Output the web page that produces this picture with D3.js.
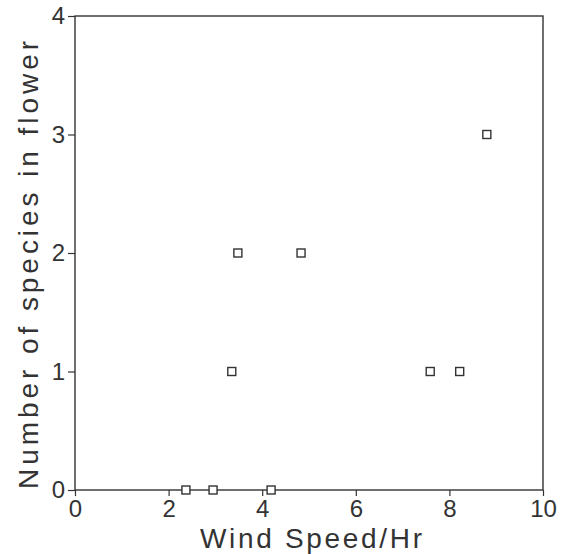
<!DOCTYPE html>
<html lang="en">
<head>
<meta charset="UTF-8">
<title>Number of species in flower vs Wind Speed</title>
<script src="https://d3js.org/d3.v7.min.js"></script>
<style>
    body { margin: 0; background: #fff; }
    .tick text { font-family: "Liberation Sans", Arial, sans-serif; fill: #333; }
    .title { font-family: "Liberation Sans", Arial, sans-serif; fill: #333; }
</style>
</head>
<body>
<svg id="chart" width="567" height="554"></svg>
<script>
    // data
    const windSpeed = [2.37, 2.95, 4.19, 3.35, 3.48, 4.83, 7.59, 8.22, 8.8];
    const speciesCount = [0, 0, 0, 1, 2, 2, 1, 1, 3];
    const xTicks = [0, 2, 4, 6, 8, 10];
    const yTicks = [0, 1, 2, 3, 4];

    const svg = d3.select("#chart");
    const margin = { top: 16, right: 24, bottom: 64, left: 75 };
    const width = 567, height = 554;

    const x = d3.scaleLinear().domain([0, 10]).range([margin.left, width - margin.right]);
    const y = d3.scaleLinear().domain([0, 4]).range([height - margin.bottom, margin.top]);

    const ink = "#333";

    // frame
    svg.append("rect")
        .attr("x", x(0)).attr("y", y(4))
        .attr("width", x(10) - x(0)).attr("height", y(0) - y(4))
        .attr("fill", "none").attr("stroke", ink).attr("stroke-width", 1.4);

    const xAxis = svg.append("g")
        .attr("transform", `translate(0,${y(0)})`)
        .call(d3.axisBottom(x).tickValues(xTicks).tickSize(6).tickPadding(4).tickFormat(d3.format("d")));
    xAxis.select(".domain").remove();
    xAxis.selectAll("line").attr("stroke", ink).attr("stroke-width", 1.2);
    xAxis.selectAll("text").attr("font-size", 24);

    const yAxis = svg.append("g")
        .attr("transform", `translate(${x(0)},0)`)
        .call(d3.axisLeft(y).tickValues(yTicks).tickSize(7).tickPadding(3).tickFormat(d3.format("d")));
    yAxis.select(".domain").remove();
    yAxis.selectAll("line").attr("stroke", ink).attr("stroke-width", 1.2);
    yAxis.selectAll("text").attr("font-size", 24);

    // points: hollow squares
    const s = 8;
    svg.append("g").selectAll("rect")
        .data(windSpeed.map((w, i) => ({ w, n: speciesCount[i] })))
        .enter()
        .append("rect")
        .attr("x", d => x(d.w) - s / 2)
        .attr("y", d => y(d.n) - s / 2)
        .attr("width", s).attr("height", s)
        .attr("fill", "#fff")
        .attr("stroke", ink).attr("stroke-width", 1.4);

    // axis titles
    svg.append("text")
        .attr("class", "title")
        .attr("x", 311).attr("y", 548)
        .attr("text-anchor", "middle")
        .attr("font-size", 28)
        .attr("textLength", 222).attr("lengthAdjust", "spacing")
        .text("Wind  Speed/Hr");

    svg.append("text")
        .attr("class", "title")
        .attr("transform", "translate(38,265) rotate(-90)")
        .attr("text-anchor", "middle")
        .attr("font-size", 28)
        .attr("textLength", 448).attr("lengthAdjust", "spacing")
        .text("Number of species in flower");
</script>
</body>
</html>
